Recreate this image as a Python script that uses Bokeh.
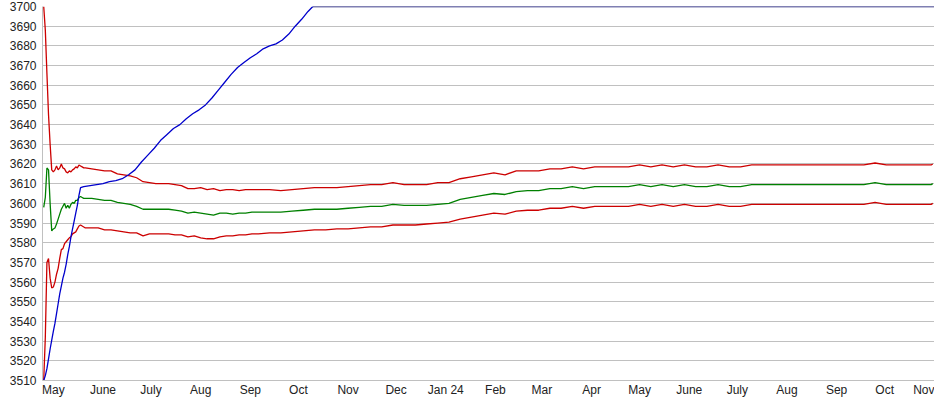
import pandas as pd
from bokeh.plotting import figure
from bokeh.models import FixedTicker, Range1d
from bokeh.embed import file_html
from bokeh.resources import INLINE

# ---------------- data ----------------
band_dates = [
    "2023-04-25", "2023-04-26", "2023-04-27", "2023-04-28", "2023-04-29", "2023-04-30",
    "2023-05-01", "2023-05-02", "2023-05-03", "2023-05-04", "2023-05-05", "2023-05-06",
    "2023-05-07", "2023-05-08", "2023-05-09", "2023-05-10", "2023-05-11", "2023-05-12",
    "2023-05-13", "2023-05-14", "2023-05-15", "2023-05-16", "2023-05-17", "2023-05-18",
    "2023-05-19", "2023-05-20", "2023-05-21",
    "2023-05-25", "2023-05-29", "2023-06-02", "2023-06-06", "2023-06-10", "2023-06-14",
    "2023-06-18", "2023-06-22", "2023-06-26", "2023-06-30", "2023-07-04", "2023-07-08",
    "2023-07-12", "2023-07-16", "2023-07-20", "2023-07-24", "2023-07-28", "2023-08-01",
    "2023-08-05", "2023-08-09", "2023-08-13", "2023-08-17", "2023-08-21", "2023-08-25",
    "2023-08-29", "2023-09-02", "2023-09-06",
    "2023-09-13", "2023-09-20", "2023-09-27", "2023-10-04", "2023-10-11", "2023-10-18",
    "2023-10-25", "2023-11-01", "2023-11-08", "2023-11-15", "2023-11-22", "2023-11-29",
    "2023-12-06", "2023-12-13", "2023-12-20", "2023-12-27", "2024-01-03", "2024-01-10",
    "2024-01-17", "2024-01-24", "2024-01-31", "2024-02-07", "2024-02-14", "2024-02-21",
    "2024-02-28", "2024-03-06", "2024-03-13", "2024-03-20", "2024-03-27", "2024-04-03",
    "2024-04-10", "2024-04-17", "2024-04-24", "2024-05-01", "2024-05-08", "2024-05-15",
    "2024-05-22", "2024-05-29", "2024-06-05", "2024-06-12", "2024-06-19", "2024-06-26",
    "2024-07-03", "2024-07-10", "2024-07-17", "2024-07-24", "2024-07-31", "2024-08-07",
    "2024-08-14", "2024-08-21", "2024-08-28", "2024-09-04", "2024-09-11", "2024-09-18",
    "2024-09-25", "2024-10-02", "2024-10-09", "2024-10-16", "2024-10-23", "2024-10-30",
    "2024-10-31",
]

upper_band = [
    3700, 3688, 3666, 3645, 3630, 3617,
    3616, 3617, 3619, 3617, 3618, 3620,
    3618, 3617.5, 3616, 3615.5, 3616.5, 3616,
    3617, 3617.5, 3618.5, 3618, 3619.5, 3619,
    3618.5, 3618, 3618,
    3617.5, 3617, 3616.5, 3616.5, 3615, 3614.5,
    3614, 3613, 3611, 3610.5, 3610, 3610,
    3610, 3609.5, 3609, 3607.5, 3607.5, 3608,
    3607, 3607.5, 3606.5, 3607, 3607, 3606.5,
    3607, 3607, 3607,
    3607, 3606.5, 3607, 3607.5, 3608, 3608,
    3608, 3608.5, 3609, 3609.5, 3609.5, 3610.5,
    3609.5, 3609.5, 3609.5, 3610.5, 3610.5, 3612.5,
    3613.5, 3614.5, 3615.5, 3614.5, 3616.5, 3616.5,
    3616.5, 3617.5, 3617.5, 3618.5, 3617.5, 3618.5,
    3618.5, 3618.5, 3618.5, 3619.5, 3618.5, 3619.5,
    3618.5, 3619.5, 3618.5, 3618.5, 3619.5, 3618.5,
    3618.5, 3619.5, 3619.5, 3619.5, 3619.5, 3619.5,
    3619.5, 3619.5, 3619.5, 3619.5, 3619.5, 3619.5,
    3620.5, 3619.5, 3619.5, 3619.5, 3619.5, 3619.5,
    3620,
]

middle_line = [
    3598, 3603, 3618, 3617, 3600, 3586,
    3587, 3587.5, 3589.5, 3592, 3594.5, 3597,
    3598.5, 3600, 3597.5, 3599, 3597.5, 3599.5,
    3600.5, 3600, 3601.5, 3601.5, 3603, 3603.5,
    3603, 3602.5, 3602.5,
    3602.5, 3602, 3601.5, 3601.5, 3600.5, 3600,
    3599.5, 3598.5, 3597, 3597, 3597, 3597,
    3597, 3596.5, 3596, 3595, 3595.5, 3595,
    3594.5, 3594, 3595, 3595, 3594.5, 3595,
    3595, 3595.5, 3595.5,
    3595.5, 3595.5, 3596, 3596.5, 3597, 3597,
    3597, 3597.5, 3598, 3598.5, 3598.5, 3599.5,
    3599, 3599, 3599, 3599.5, 3600, 3602,
    3603, 3604, 3605, 3604.5, 3606, 3606.5,
    3606.5, 3607.5, 3607.5, 3608.5, 3607.5, 3608.5,
    3608.5, 3608.5, 3608.5, 3609.5, 3608.5, 3609.5,
    3608.5, 3609.5, 3608.5, 3608.5, 3609.5, 3608.5,
    3608.5, 3609.5, 3609.5, 3609.5, 3609.5, 3609.5,
    3609.5, 3609.5, 3609.5, 3609.5, 3609.5, 3609.5,
    3610.5, 3609.5, 3609.5, 3609.5, 3609.5, 3609.5,
    3610,
]

lower_band = [
    3510, 3532, 3570, 3572, 3562, 3557,
    3557.5, 3560, 3564, 3567, 3572, 3576.5,
    3577, 3579.5, 3580.5, 3581.5, 3582.5, 3583,
    3584.5, 3585, 3585.5, 3587, 3588.5, 3589,
    3588.5, 3588, 3587.5,
    3587.5, 3587.5, 3586.5, 3586.5, 3586, 3585.5,
    3585, 3585, 3583.5, 3584.5, 3584.5, 3584.5,
    3584.5, 3584, 3584, 3583, 3583.5, 3582.5,
    3582, 3582, 3583, 3583.5, 3583.5, 3584,
    3584, 3584.5, 3584.5,
    3585, 3585, 3585.5, 3586, 3586.5, 3586.5,
    3587, 3587, 3587.5, 3588, 3588, 3589,
    3589, 3589, 3589.5, 3590, 3590.5, 3592,
    3593, 3594, 3595, 3594.5, 3596, 3596.5,
    3596.5, 3597.5, 3597.5, 3598.5, 3597.5, 3598.5,
    3598.5, 3598.5, 3598.5, 3599.5, 3598.5, 3599.5,
    3598.5, 3599.5, 3598.5, 3598.5, 3599.5, 3598.5,
    3598.5, 3599.5, 3599.5, 3599.5, 3599.5, 3599.5,
    3599.5, 3599.5, 3599.5, 3599.5, 3599.5, 3599.5,
    3600.5, 3599.5, 3599.5, 3599.5, 3599.5, 3599.5,
    3600,
]

rise_dates = [
    "2023-04-25", "2023-04-26", "2023-04-27", "2023-04-28", "2023-04-29", "2023-04-30",
    "2023-05-01", "2023-05-02", "2023-05-03", "2023-05-04", "2023-05-05", "2023-05-06",
    "2023-05-07", "2023-05-08", "2023-05-09", "2023-05-10", "2023-05-11", "2023-05-12",
    "2023-05-13", "2023-05-14", "2023-05-15", "2023-05-16", "2023-05-17", "2023-05-18",
    "2023-05-20", "2023-05-24", "2023-05-28", "2023-06-01", "2023-06-05", "2023-06-09",
    "2023-06-13", "2023-06-17", "2023-06-21", "2023-06-25", "2023-06-29", "2023-07-03",
    "2023-07-07", "2023-07-11", "2023-07-15", "2023-07-19", "2023-07-23", "2023-07-27",
    "2023-07-31", "2023-08-04", "2023-08-08", "2023-08-12", "2023-08-16", "2023-08-20",
    "2023-08-24", "2023-08-28", "2023-09-01", "2023-09-05", "2023-09-09", "2023-09-13",
    "2023-09-17", "2023-09-21", "2023-09-25", "2023-09-29", "2023-10-03", "2023-10-07",
    "2023-10-10",
]
rise_line = [
    3510, 3512.5, 3516, 3521, 3526, 3530.5,
    3535, 3539, 3544, 3549, 3554, 3558,
    3562, 3565, 3569, 3574, 3578, 3583,
    3587, 3591, 3595, 3599, 3604, 3608,
    3608.5, 3609, 3609.5, 3610, 3611, 3611.5,
    3612.5, 3614.5, 3617, 3621, 3624.5, 3628,
    3632, 3635, 3638, 3640, 3643, 3645.5,
    3647.5, 3650, 3653.5, 3657.5, 3661.5, 3665.5,
    3669, 3671.5, 3674, 3676, 3678.5, 3680,
    3681, 3683, 3686, 3690, 3693.5, 3697.5,
    3700,
]

cap_dates = ["2023-10-10", "2024-11-01"]
cap_line = [3700, 3700]

month_labels = ["May", "June", "July", "Aug", "Sep", "Oct", "Nov", "Dec", "Jan 24",
                "Feb", "Mar", "Apr", "May", "June", "July", "Aug", "Sep", "Oct", "Nov"]
y_ticks = list(range(3510, 3701, 10))

# ---------------- helpers ----------------
origin = pd.Timestamp("2023-05-01")


def to_days(dates):
    return [(pd.Timestamp(d) - origin).days for d in dates]


month_starts = pd.date_range("2023-05-01", "2024-11-01", freq="MS")
month_ticks = [(m - origin).days for m in month_starts]

# ---------------- figure ----------------
p = figure(width=934, height=399, output_backend="svg", toolbar_location=None,
           x_range=Range1d(-6.76, 550.1), y_range=Range1d(3510, 3700),
           min_border_left=42, min_border_right=0, min_border_top=6,
           min_border_bottom=17)
p.outline_line_color = None
p.background_fill_color = "white"
p.border_fill_color = "white"

p.xgrid.grid_line_color = None
p.ygrid.grid_line_color = "#c0c0c0"
p.ygrid.grid_line_width = 1

p.yaxis.ticker = FixedTicker(ticks=y_ticks)
p.xaxis.ticker = FixedTicker(ticks=month_ticks)
p.xaxis.major_label_overrides = {t: lab for t, lab in zip(month_ticks, month_labels)}

for ax in (p.xaxis, p.yaxis):
    ax.axis_line_color = "#c0c0c0"
    ax.major_tick_line_color = None
    ax.minor_tick_line_color = None
    ax.major_tick_out = 0
    ax.major_tick_in = 0
    ax.major_label_text_font = "Liberation Sans"
    ax.major_label_text_font_size = "12px"
    ax.major_label_text_color = "#222222"
p.yaxis.major_label_standoff = 6
p.xaxis.major_label_standoff = 2

bx = to_days(band_dates)
p.line(bx, upper_band, line_color="#cc0000", line_width=1.3)
p.line(bx, lower_band, line_color="#cc0000", line_width=1.3)
p.line(bx, middle_line, line_color="#008000", line_width=1.3)
p.line(to_days(rise_dates), rise_line, line_color="#0000cc", line_width=1.3)
p.line(to_days(cap_dates), cap_line, line_color="#000066", line_width=1.6)

open("out.html", "w").write(file_html(p, INLINE))
